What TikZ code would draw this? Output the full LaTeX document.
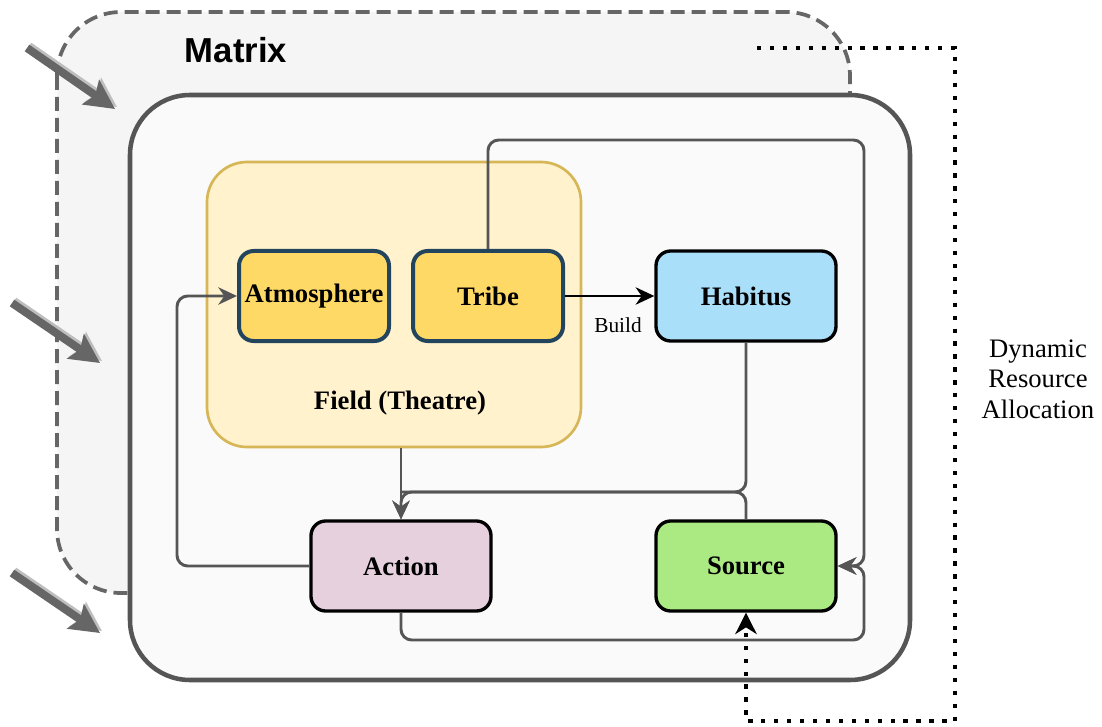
\documentclass[tikz,border=0pt]{standalone}
\usepackage{fontspec}
\setmainfont{Liberation Serif}
\newfontfamily\headfont{Liberation Sans}
\usetikzlibrary{arrows.meta}

\definecolor{edgegray}{RGB}{85,85,85}
\definecolor{dashgray}{RGB}{102,102,102}
\definecolor{shadegray}{RGB}{190,190,190}
\definecolor{matrixfill}{RGB}{245,245,245}
\definecolor{innerfill}{RGB}{250,250,250}
\definecolor{fieldfill}{RGB}{255,242,204}
\definecolor{fielddraw}{RGB}{214,182,86}
\definecolor{tribefill}{RGB}{255,217,102}
\definecolor{tribedraw}{RGB}{35,68,93}
\definecolor{habfill}{RGB}{170,223,250}
\definecolor{actfill}{RGB}{230,208,222}
\definecolor{srcfill}{RGB}{171,234,130}

\tikzset{every picture/.style={line width=0.75pt}}
\tikzset{
  box/.style={draw=black, line width=2.5pt, rounded corners=11pt, minimum width=135pt, minimum height=67.5pt, inner sep=0pt, font=\fontsize{20}{24}\selectfont\bfseries},
  fieldbox/.style={box, draw=tribedraw, fill=tribefill, line width=3pt, minimum width=112.5pt},
  conn/.style={draw=edgegray, line width=2.2pt, rounded corners=8pt},
  gtip/.style={-{Stealth[length=14pt,width=13pt,inset=4.5pt]}},
  dotline/.style={draw=black, line width=3.2pt, dash pattern=on 3.2pt off 6.5pt},
  push/.style={draw=dashgray, line width=6pt, -{Stealth[length=22pt,width=22pt,inset=4pt]}},
  pushshade/.style={push, draw=shadegray},
}

\begin{document}
\begin{tikzpicture}[x=0.75pt,y=0.75pt,yscale=-1,xscale=1]
\useasboundingbox (0,0) rectangle (1102,727);

%Shape: Matrix frame
\draw [draw=dashgray, fill=matrixfill, line width=2.8pt, dash pattern=on 10.5pt off 5.25pt, rounded corners=48pt] (57,12) rectangle (850,593);
%Shape: Inner frame
\draw [draw=edgegray, fill=innerfill, line width=3.4pt, rounded corners=45pt] (130,95) rectangle (910,680);

% Text Node
\node [font=\headfont\fontsize{26}{30}\selectfont\bfseries] (mtx) at (236,50) {Matrix};

%Shape: Field (Theatre)
\node [draw=fielddraw, fill=fieldfill, line width=2pt, rounded corners=30pt, minimum width=280.5pt, minimum height=213.75pt] (field) at (394,304.5) {};
\node [font=\fontsize{20}{24}\selectfont\bfseries] (fieldlbl) at (400,403) {Field (Theatre)};

%Blocks
\node [fieldbox] (atm) at (314,296) {Atmosphere};
\node [fieldbox] (tribe) at (488,296) {Tribe};
\node [box, fill=habfill] (hab) at (746,296) {Habitus};
\node [box, fill=actfill] (act) at (401,566) {Action};
\node [box, fill=srcfill] (src) at (746,566) {Source};

% bends
\coordinate (ne) at (864,140);
\coordinate (se) at (864,640);
\coordinate (mid) at (401,492);
\coordinate (lw) at (177,566);

%Connectors
\draw [conn, gtip] (tribe.north) |- (ne) |- (src.east);
\draw [conn, gtip] (act.south) |- (se) |- (src.east);
\draw [conn, gtip] (hab.south) |- (mid) -- (act.north);
\draw [conn] (src.north) |- (mid);
\draw [conn, gtip] (act.north |- field.south) -- (act.north);
\draw [conn, gtip] (act.west) -- (lw) |- (atm.west);
\draw [draw=black, line width=2.2pt, -{Stealth[length=14pt,width=13pt,inset=4.5pt]}] (tribe.east) -- (hab.west);
% Text Node
\node [font=\fontsize{16}{19}\selectfont] (build) at (618,325) {Build};

%Dotted loop
\coordinate (dl1) at (757,48);
\coordinate (dl2) at (955,48);
\coordinate (dl3) at (955,721);
\draw [dotline, -{Stealth[length=16pt,width=16pt,inset=5pt]}] (dl1) -- (dl2) -- (dl3) -| (src.south);
% Text Node
\node [font=\fontsize{20}{23}\selectfont, align=center] (dra) at (1038,379) {Dynamic\\Resource\\Allocation};

%Inputs
\coordinate (inA1) at (27,48);  \coordinate (inA2) at (115,109);
\coordinate (inB1) at (12,303); \coordinate (inB2) at (100,363);
\coordinate (inC1) at (12,573); \coordinate (inC2) at (100,633);
\foreach \k in {A,B,C}{
  \draw [pushshade] ([xshift=1.5pt,yshift=-1.5pt]in\k1) -- ([xshift=1.5pt,yshift=-1.5pt]in\k2);
  \draw [push] (in\k1) -- (in\k2);
}

\end{tikzpicture}
\end{document}
